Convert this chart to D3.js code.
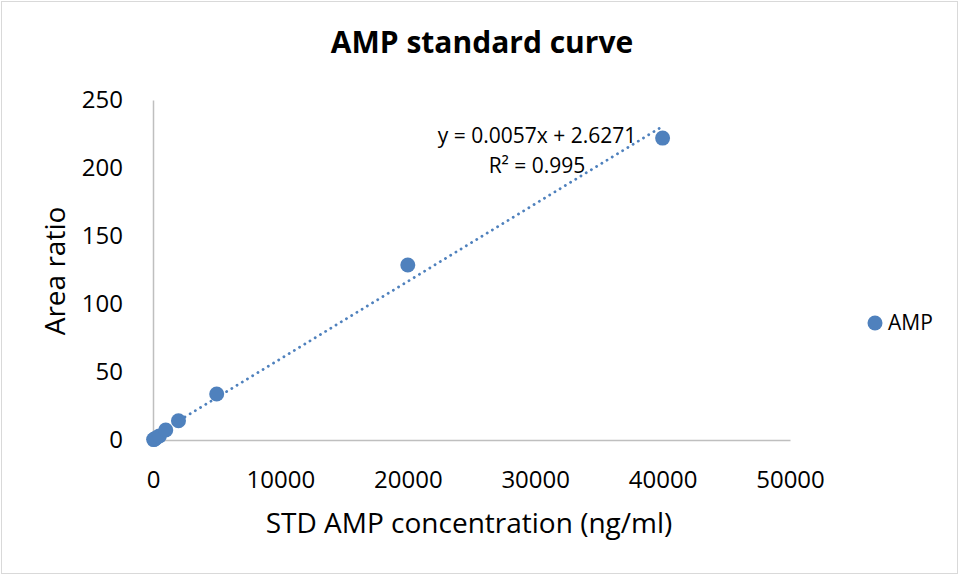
<!DOCTYPE html>
<html><head><meta charset="utf-8">
<script src="https://cdn.jsdelivr.net/npm/d3@7"></script>
<style>body{margin:0;background:#fff}svg{display:block}text{font-family:"Open Sans",sans-serif;fill:#000}</style>
</head><body>
<script>
const concentrations = [50, 100, 200, 500, 1000, 2000, 5000, 20000, 40000];
const areaRatios = [0.3, 0.6, 1.2, 3.0, 7.4, 14.2, 33.8, 128.7, 222.0];
const xTicks = [0, 10000, 20000, 30000, 40000, 50000];
const yTicks = [0, 50, 100, 150, 200, 250];
const slope = 0.0057, intercept = 2.6271;
const eqLines = ["y = 0.0057x + 2.6271", "R² = 0.995"];
const seriesName = "AMP";

const W = 961, H = 577;
const svg = d3.select("body").append("svg").attr("width", W).attr("height", H);
svg.append("rect").attr("x", 1.5).attr("y", 1.5).attr("width", W - 5).attr("height", H - 5)
  .attr("fill", "#fff").attr("stroke", "#d9d9d9").attr("stroke-width", 1);

const x = d3.scaleLinear().domain([0, 50000]).range([153, 790]);
const y = d3.scaleLinear().domain([0, 250]).range([440, 100]);
const color = "#4f81bd";

svg.append("text").attr("x", 482).attr("y", 53).attr("text-anchor", "middle")
  .style("font-size", "30px").style("font-weight", "bold").text("AMP standard curve");

// axes
const xAxis = svg.append("g").attr("transform", "translate(0,440)")
  .call(d3.axisBottom(x).tickValues(xTicks).tickFormat(d3.format("d")).tickSize(0).tickPadding(31));
xAxis.select(".domain").attr("stroke", "#bfbfbf").attr("stroke-width", 1.5);
xAxis.selectAll("text").style("font-size", "24px").style("font-family", "'Open Sans', sans-serif").attr("fill", "#000");

const yAxis = svg.append("g").attr("transform", "translate(153,0)")
  .call(d3.axisLeft(y).tickValues(yTicks).tickSize(0).tickPadding(30));
yAxis.select(".domain").attr("stroke", "#bfbfbf").attr("stroke-width", 1.5);
yAxis.selectAll("text").style("font-size", "24px").style("font-family", "'Open Sans', sans-serif").attr("fill", "#000");

svg.append("text").attr("x", 469).attr("y", 533).attr("text-anchor", "middle")
  .style("font-size", "28px").text("STD AMP concentration (ng/ml)");
svg.append("text").attr("transform", "translate(65,271) rotate(-90)").attr("text-anchor", "middle")
  .style("font-size", "28px").text("Area ratio");

// trendline
const xMin = d3.min(concentrations), xMax = d3.max(concentrations);
svg.append("line")
  .attr("x1", x(xMin)).attr("y1", y(slope * xMin + intercept))
  .attr("x2", x(xMax)).attr("y2", y(slope * xMax + intercept))
  .attr("stroke", color).attr("stroke-width", 2.8).attr("stroke-linecap", "round")
  .attr("stroke-dasharray", "0.1,6");

// points
svg.selectAll("circle.pt").data(concentrations).enter().append("circle").attr("class", "pt")
  .attr("cx", d => x(d)).attr("cy", (d, i) => y(areaRatios[i])).attr("r", 7.5).attr("fill", color);

// equation
svg.selectAll("text.eq").data(eqLines).enter().append("text").attr("class", "eq")
  .attr("x", 537).attr("y", (d, i) => 143 + i * 30)
  .attr("text-anchor", "middle").style("font-size", "21px").text(d => d);

// legend
svg.append("circle").attr("cx", 875).attr("cy", 323).attr("r", 7.5).attr("fill", color);
svg.append("text").attr("x", 888).attr("y", 330).style("font-size", "21px").text(seriesName);
</script>
</body></html>
